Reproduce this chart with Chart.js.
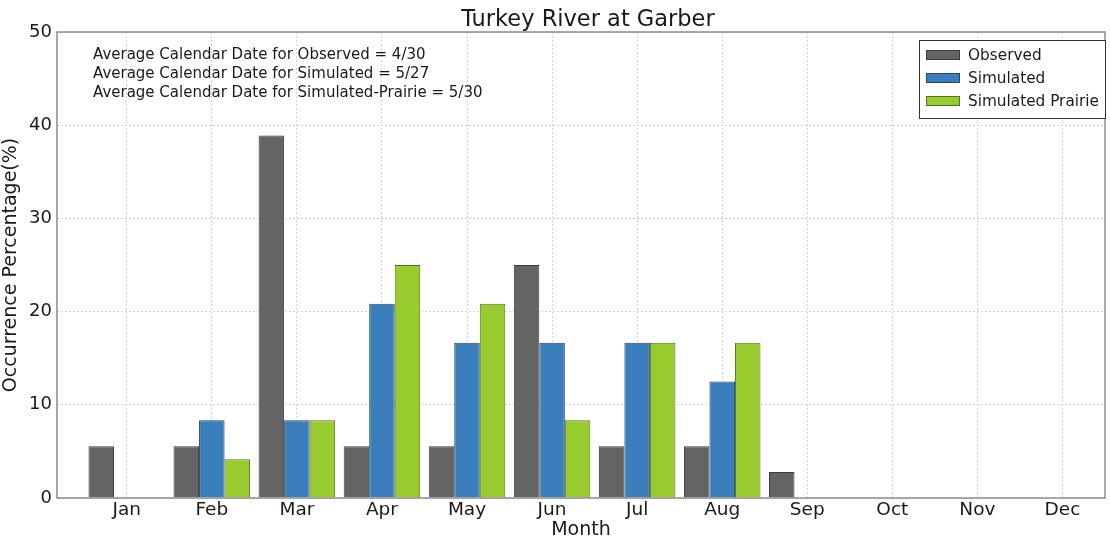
<!DOCTYPE html>
<html>
<head>
<meta charset="utf-8">
<script src="https://cdn.jsdelivr.net/npm/chart.js@4/dist/chart.umd.min.js"></script>
<style>
  html, body { margin: 0; padding: 0; background: #fff; }
  #wrap { width: 1110px; height: 541px; }
</style>
</head>
<body>
<div id="wrap"><canvas id="c"></canvas></div>
<script>
'use strict';

const months = ['Jan', 'Feb', 'Mar', 'Apr', 'May', 'Jun', 'Jul', 'Aug', 'Sep', 'Oct', 'Nov', 'Dec'];
const observed = [5.56, 5.56, 38.89, 5.56, 5.56, 25.0, 5.56, 5.56, 2.78, 0, 0, 0];
const simulated = [0, 8.33, 8.33, 20.83, 16.67, 16.67, 16.67, 12.5, 0, 0, 0, 0];
const prairie = [0, 4.17, 8.33, 25.0, 20.83, 8.33, 16.67, 16.67, 0, 0, 0, 0];
const yTicks = [0, 10, 20, 30, 40, 50];
const notes = [
  'Average Calendar Date for Observed = 4/30',
  'Average Calendar Date for Simulated = 5/27',
  'Average Calendar Date for Simulated-Prairie = 5/30',
];

const FONT = '"DejaVu Sans", sans-serif';

function pts(arr) {
  return arr.map((v, i) => ({ x: i, y: v }));
}

// title, annotation text, legend box and frame
const decor = {
  id: 'decor',
  afterDraw(chart) {
    const ctx = chart.ctx;
    const a = chart.chartArea;
    ctx.save();

    // frame
    ctx.strokeStyle = '#8c8c8c';
    ctx.lineWidth = 1.5;
    ctx.strokeRect(a.left, a.top, a.right - a.left, a.bottom - a.top);

    // title
    ctx.fillStyle = '#1a1a1a';
    ctx.font = '22.5px ' + FONT;
    ctx.textAlign = 'center';
    ctx.textBaseline = 'middle';
    ctx.fillText('Turkey River at Garber', 588, 20);

    // notes
    ctx.font = '15px ' + FONT;
    ctx.textAlign = 'left';
    notes.forEach((t, i) => ctx.fillText(t, 93, 55 + i * 19));

    // legend
    const bx = 919, by = 40, bw = 186, bh = 78;
    ctx.fillStyle = '#fff';
    ctx.fillRect(bx, by, bw, bh);
    ctx.strokeStyle = '#333';
    ctx.lineWidth = 1;
    ctx.strokeRect(bx + 0.5, by + 0.5, bw, bh);
    ctx.font = '15.3px ' + FONT;
    chart.data.datasets.forEach((ds, i) => {
      const y = 55 + i * 23;
      ctx.fillStyle = ds.backgroundColor;
      ctx.fillRect(926, y - 5, 34, 10);
      ctx.strokeStyle = ds.borderColor;
      ctx.strokeRect(926.5, y - 4.5, 33, 9);
      ctx.fillStyle = '#1a1a1a';
      ctx.fillText(ds.label, 968, y + 1);
    });
    ctx.restore();
  },
};

const barStyle = { borderWidth: 1, categoryPercentage: 0.9, barPercentage: 1.0 };

new Chart(document.getElementById('c'), {
  type: 'bar',
  data: {
    datasets: [
      { label: 'Observed', data: pts(observed), backgroundColor: '#646464', borderColor: '#3c3c3c', ...barStyle },
      { label: 'Simulated', data: pts(simulated), backgroundColor: '#3a7fbb', borderColor: '#28445e', ...barStyle },
      { label: 'Simulated Prairie', data: pts(prairie), backgroundColor: '#98cb2e', borderColor: '#55701f', ...barStyle },
    ],
  },
  options: {
    responsive: true,
    maintainAspectRatio: false,
    animation: false,
    layout: { padding: { top: 32, right: 5, left: 0, bottom: 0 } },
    plugins: { legend: { display: false }, tooltip: { enabled: false } },
    scales: {
      x: {
        type: 'linear',
        offset: false,
        min: -0.82,
        max: 11.5,
        afterBuildTicks: (axis) => { axis.ticks = months.map((m, i) => ({ value: i })); },
        afterFit: (axis) => { axis.height = 43; },
        ticks: {
          callback: (v) => months[v] || '',
          color: '#1a1a1a',
          font: { family: FONT, size: 18.5 },
          padding: 1,
          maxRotation: 0,
          autoSkip: false,
        },
        grid: { color: '#d6d6d6', tickLength: 0, lineWidth: 1, offset: false },
        border: { display: false, dash: [2, 2] },
        title: { display: true, text: 'Month', color: '#1a1a1a', font: { family: FONT, size: 19 }, padding: { top: 0, bottom: 0 } },
      },
      y: {
        min: 0,
        max: 50,
        afterBuildTicks: (axis) => { axis.ticks = yTicks.map(v => ({ value: v })); },
        afterFit: (axis) => { axis.width = 57; },
        ticks: {
          color: '#1a1a1a',
          font: { family: FONT, size: 18 },
          padding: 5,
        },
        grid: { color: '#d6d6d6', tickLength: 0, lineWidth: 1 },
        border: { display: false, dash: [2, 2] },
        title: { display: true, text: 'Occurrence Percentage(%)', color: '#1a1a1a', font: { family: FONT, size: 19 }, padding: { top: 0, bottom: 0 } },
      },
    },
  },
  plugins: [decor],
});
</script>
</body>
</html>
